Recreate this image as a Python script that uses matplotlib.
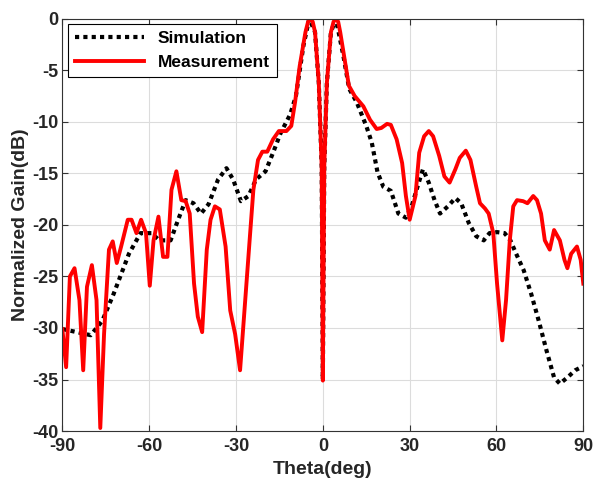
import matplotlib.pyplot as plt
import numpy as np

plt.rcParams.update({'font.family': 'Liberation Sans', 'font.weight': 'bold', 'font.size': 13,
                     'axes.unicode_minus': False})

# simulated pattern
sim_theta = [-90, -85, -80.2, -76.2, -72.3, -67, -63, -59.2, -56.5, -52.6, -50, -47.4, -44.7,
             -42.1, -39.5, -36.2, -33.3, -31, -28.3, -25.7, -23.1, -19.8, -17.2, -14.6, -11.3,
             -9.3, -6.7, -4.7, -2.7, -1.4, -0.4, 0, 0.5, 1.4, 2.8, 4.5, 7.1, 9.1, 11.7, 15, 16.9,
             18.9, 20.9, 23.5, 26.1, 28.7, 30.7, 32.7, 34.6, 36.6, 38.6, 40.5, 43.2, 45.8, 47.8,
             50.4, 53, 55.6, 57.6, 60.2, 62.8, 64.8, 66.8, 69.4, 72, 74.6, 77.3, 79.9, 81.9,
             84.5, 87.2, 90]
sim_gain = [-30.1, -30.4, -30.7, -29.3, -26.7, -22.8, -20.8, -20.8, -21.5, -21.5, -19.5, -17.6,
            -17.9, -18.9, -18.0, -15.6, -14.5, -15.6, -17.7, -17.2, -15.6, -14.8, -13.0, -11.1,
            -9.3, -7.5, -2.6, 0.0, -1.3, -6.2, -14.3, -35.0, -14.3, -6.2, -1.3, 0.0, -3.6, -6.8,
            -8.1, -10.4, -12.0, -14.9, -16.3, -16.7, -18.9, -19.3, -18.2, -16.3, -14.6, -15.9,
            -17.6, -18.9, -18.2, -17.4, -17.9, -19.8, -21.1, -21.5, -20.8, -20.7, -20.8, -21.5,
            -22.8, -24.4, -26.7, -29.3, -32.2, -34.8, -35.4, -34.8, -34.1, -33.7]

# measured pattern
meas_theta = [-90, -88.7, -87.4, -85.8, -84.1, -82.8, -81.5, -79.8, -78.2, -76.9, -75.6, -73.9,
              -72.6, -71.2, -69.7, -67.4, -66.1, -64.4, -62.8, -61.1, -59.8, -58.5, -56.8, -55.2,
              -53.7, -52.3, -50.6, -48.9, -47.4, -46, -44.5, -43.2, -41.7, -40.1, -38.8, -37.3,
              -35.6, -33.6, -32, -30.3, -28.6, -27, -25.3, -24, -22.4, -20.9, -19.2, -17.2,
              -15.2, -12.6, -10.9, -9.6, -8, -6, -5.1, -4.3, -3.5, -2.7, -1.4, -0.4, 0, 0.5,
              1.4, 2.8, 3.7, 4.5, 5.3, 6, 7.5, 9, 11, 14, 16.3, 18.6, 20.2, 22.2, 23.5, 25.5,
              27.4, 28.7, 30, 32, 33.3, 35, 36.6, 38.1, 40.2, 42, 43.8, 45.8, 47.3, 49.4, 51,
              53, 54.3, 56, 57.3, 58.9, 60.2, 62, 63.3, 64.6, 65.8, 67.1, 69.2, 70.7, 72.7, 74,
              75.4, 76.7, 78.4, 79.9, 81.9, 83.5, 84.5, 85.8, 87.8, 89.1, 90]
meas_gain = [-30.1, -33.8, -25.0, -24.2, -27.3, -34.1, -26.0, -23.9, -27.3, -39.7, -30.6, -22.4,
             -21.6, -23.7, -22.1, -19.5, -19.5, -20.8, -19.5, -20.8, -25.9, -21.5, -19.2, -23.1,
             -23.1, -16.6, -14.8, -17.6, -17.7, -18.9, -25.7, -28.9, -30.4, -22.4, -19.5, -18.2,
             -18.5, -22.1, -28.3, -30.6, -34.1, -28.0, -21.5, -16.6, -13.7, -12.9, -12.9, -11.7,
             -10.9, -10.9, -10.4, -8.1, -4.6, -1.3, -0.3, 0.0, -0.3, -1.3, -6.2, -14.3, -35.1,
             -14.3, -6.2, -1.3, -0.3, 0.0, -0.3, -1.3, -3.9, -6.5, -7.5, -8.5, -9.8, -10.7,
             -10.6, -10.2, -10.3, -11.7, -14.0, -17.2, -19.5, -17.2, -13.0, -11.4, -10.9, -11.4,
             -13.3, -15.3, -15.9, -14.6, -13.5, -12.8, -13.7, -16.3, -17.9, -18.4, -18.9, -20.8,
             -25.7, -31.2, -27.3, -21.5, -18.2, -17.6, -17.7, -17.9, -17.2, -17.6, -18.9, -21.5,
             -22.4, -20.5, -21.5, -23.4, -24.2, -22.8, -22.1, -23.4, -25.7]

fig = plt.figure(figsize=(5.94, 4.79), dpi=100)
ax = fig.add_axes([0.105, 0.10, 0.877, 0.861])

ax.plot(sim_theta, sim_gain, color='black', linestyle=(0, (1, 1)), linewidth=3,
        dash_capstyle='butt', label='Simulation')
ax.plot(meas_theta, meas_gain, color='red', linewidth=2.8, label='Measurement')

ax.set_xlim(-90, 90)
ax.set_ylim(-40, 0)
ax.set_xticks(np.arange(-90, 91, 30))
ax.set_yticks(np.arange(-40, 1, 5))
ax.grid(True, color='#dcdcdc', linewidth=0.8)
ax.set_axisbelow(True)
ax.tick_params(direction='in', length=4, color='#333333', labelcolor='#262626',
               top=True, right=True, labeltop=False, labelright=False)
ax.tick_params(axis='x', pad=5)
ax.tick_params(axis='y', pad=3)
for s in ax.spines.values():
    s.set_color('#333333')

ax.set_xlabel('Theta(deg)', fontsize=14, fontweight='bold', color='#262626', labelpad=4)
ax.set_ylabel('Normalized Gain(dB)', fontsize=14, fontweight='bold', color='#262626', labelpad=2)

leg = ax.legend(loc='upper left', fancybox=False, framealpha=1, edgecolor='black',
                borderaxespad=0.3, handlelength=4.0, fontsize=12.5)
leg.get_frame().set_linewidth(0.8)

fig.savefig('out.png', dpi=100)
